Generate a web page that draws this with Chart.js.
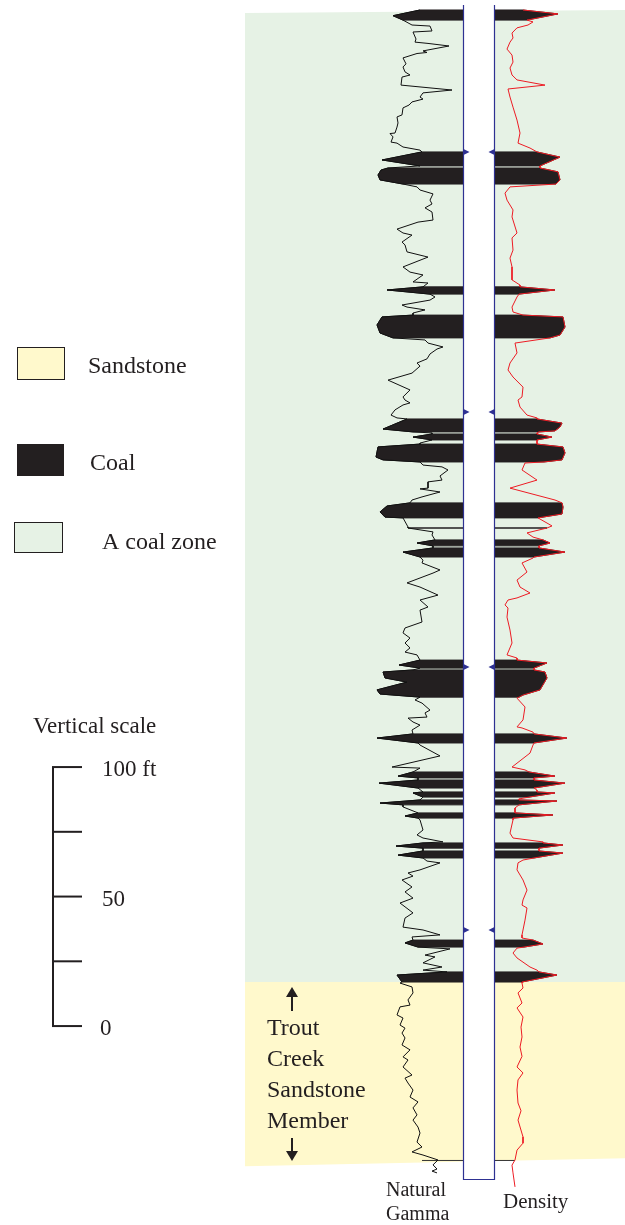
<!DOCTYPE html>
<html>
<head>
<meta charset="utf-8">
<script src="https://cdn.jsdelivr.net/npm/chart.js@4.4.1/dist/chart.umd.min.js"></script>
<style>
html, body { margin: 0; padding: 0; background: #fff; }
canvas { display: block; }
</style>
</head>
<body>
<canvas id="log" width="625" height="1225"></canvas>
<script>
// depth in ft below top of log, gamma in API, density in g/cc
const gammaLog = [
  [0,57],[2.2,30],[3.9,40],[5.8,49],[6.2,67],[8.1,69],[8.5,50],[11.2,53],[12.4,52],[12.9,65],[13.9,86],[15.8,60],[16.4,64],[16.8,54],[18.5,40],[20.8,43],[22.0,40],[23.9,42],[25.1,47],[25.9,39],[29.0,38],[30.9,89],[32.0,60],[33.6,57],[34.4,60],[35.5,49],[36.7,46],[37.8,40],[40.5,39],[41.3,34],[43.6,35],[45.2,34],[47.5,32],[47.7,27],[49.0,30],[51.0,28],[51.4,34],[52.9,40],[54.1,57],
  [54.8,59],[57.9,19],[60.2,57],
  [61.0,25],[61.8,18],[63.7,15],[65.6,17],[67.2,40],
  [68.3,54],[69.5,57],[71.0,70],[73.4,67],[74.9,69],[76.4,62],[78.0,69],[81.1,70],[81.9,55],[84.6,34],[86.1,40],[86.9,49],[89.6,39],[90.7,42],[93.4,44],[95.4,65],[99.2,40],[101.2,47],[102.3,60],[105.0,50],[105.4,65],
  [106.9,60],[108.1,24],[109.7,67],
  [110.8,72],[112.0,67],[113.9,39],[114.7,44],[115.8,62],[117.0,50],
  [117.8,50],[118.5,19],[121.6,14],[124.7,17],[126.6,30],
  [127.4,62],[128.6,65],[130.1,80],[130.9,74],[132.8,67],[134.7,64],[136.3,54],[137.5,57],[140.2,49],[142.9,25],[146.7,47],[149.4,40],[150.6,42],[151.7,47],[152.5,40],[154.4,32],[156.4,28],[157.5,34],
  [157.9,44],[161.8,20],[162.9,50],
  [163.3,69],
  [163.7,69],[164.9,50],[166.0,69],
  [167.2,57],
  [167.6,57],[168.7,15],[172.6,13],[173.7,20],[174.5,57],
  [175.7,60],[176.4,79],[177.6,85],[179.9,77],[181.5,79],[182.2,65],[184.6,65],[184.9,57],[186.1,77],[188.0,59],[189.2,49],
  [190.3,47],[191.5,24],[193.8,17],[195.8,22],[196.1,40],
  [199.6,45],[200.0,45],[201.5,70],[202.7,69],
  [204.6,72],[205.8,54],[206.9,70],
  [207.7,70],[209.3,40],[211.2,57],
  [212.4,60],[213.5,59],[216.2,77],[217.4,70],[221.2,44],[222.8,57],[225.9,75],[227.8,57],[230.5,65],[231.7,57],[236.3,59],[238.6,42],[240.5,40],[242.5,47],[244.4,42],[246.3,47],[247.9,42],[249.0,54],
  [251.0,57],[252.9,36],[254.1,57],
  [254.8,50],[255.6,20],[257.9,22],[259.5,44],[262.5,14],[264.1,17],[265.3,57],
  [266.4,52],[267.6,59],[270.3,67],[271.4,62],[273.0,64],[273.4,45],[274.9,50],[276.1,57],[278.0,49],
  [279.5,50],[281.1,14],[283.0,55],
  [283.8,57],[288.0,77],[292.3,29],[292.7,57],
  [294.2,50],[295.8,35],[296.5,55],
  [297.3,55],[298.5,16],[300.4,55],
  [301.9,60],[302.3,50],[303.9,60],
  [305.0,57],[306.2,17],[306.9,40],
  [307.7,40],
  [310.0,55],[311.2,42],[312.0,55],
  [312.7,57],[316.6,60],[318.5,54],[319.7,60],[321.2,80],
  [321.6,60],[322.8,33],[323.6,60],
  [324.7,60],[326.3,35],[327.4,60],
  [328.6,64],[329.3,77],[332.0,57],[333.2,45],[334.4,50],[335.9,39],[338.6,49],[340.5,42],[342.9,50],[344.8,37],[348.6,50],[350.6,42],[354.1,40],[355.2,60],[357.1,77],[357.9,49],
  [359.1,50],[360.2,42],[361.8,55],
  [362.5,87],[364.9,62],[365.6,72],[367.9,60],[369.5,79],[370.7,60],
  [371.4,84],[372.6,34],[375.3,39],
  [375.7,37],[377.2,49],[379.5,50],[382.2,45],[384.2,47],[384.9,37],[388.0,34],[389.2,40],[391.9,37],[393.1,42],[395.0,39],[396.9,42],[399.6,39],[401.5,47],[404.2,40],[405.4,45],[408.1,40],[411.2,49],[412.4,42],[414.3,45],[417.0,50],[419.7,47],[421.6,55],[423.9,50],[426.6,54],[428.6,50],[431.3,55],[433.6,57],[437.1,54],[439.0,59],[440.9,49],[442.1,60],[444.0,75],[445.9,70],[447.5,74],[448.3,69],[449.0,74]
];

const densityLog = [
  [0,2.22],[1.5,1.52],[3.9,2.14],
  [4.6,2.02],[5.8,2.12],[6.9,2.34],[8.9,2.44],[10.8,2.42],[12.4,2.48],[15.1,2.54],[17.4,2.44],[20.1,2.42],[22.4,2.48],[25.1,2.44],[27.0,2.34],[29.0,1.78],[30.5,2.52],[33.6,2.48],[37.5,2.42],[42.5,2.34],[47.5,2.28],[51.4,2.32],[53.3,2.08],
  [54.8,1.94],[56.8,1.48],[60.2,1.88],
  [61.0,1.88],[62.5,1.52],[65.6,1.48],[67.2,1.56],
  [68.3,2.48],[70.7,2.58],[73.4,2.54],[77.2,2.42],[79.9,2.44],[86.1,2.34],[88.0,2.44],[92.7,2.42],[95.8,2.48],[99.2,2.44],[104.2,2.44],[106.2,2.28],
  [106.9,2.28],[108.1,1.58],[109.7,2.3],
  [110.8,2.34],[114.7,2.44],[116.6,2.42],
  [117.8,2.22],[118.5,1.42],[122.4,1.38],[125.5,1.48],[126.6,1.68],
  [128.6,2.38],[132.4,2.34],[136.3,2.48],[139.0,2.52],[141.7,2.42],[145.6,2.22],[149.4,2.24],[150.6,2.32],[153.3,2.28],[156.4,2.14],[157.5,1.94],
  [157.9,1.94],[159.5,1.44],[161.0,1.48],[162.5,1.58],[162.9,1.9],
  [163.3,1.94],
  [163.7,1.94],[164.9,1.64],[166.0,1.94],
  [167.2,1.94],
  [167.6,1.94],[168.7,1.42],[171.0,1.38],[173.7,1.44],[174.5,1.8],
  [174.9,2.18],[177.6,2.24],[181.5,1.94],[184.6,2.48],[189.2,1.58],
  [190.3,1.44],[191.9,1.42],[194.6,1.44],[196.1,1.92],
  [199.2,1.64],[200.0,1.74],[201.9,2.14],[203.5,2.02],
  [204.6,1.82],[205.8,1.68],[206.9,1.9],
  [207.7,1.9],[209.3,1.38],[211.2,2.0],
  [211.6,2.02],[213.5,2.24],[217.0,2.14],[220.1,2.34],[222.8,2.28],[225.1,2.08],[227.0,2.34],[227.8,2.52],[229.7,2.58],[230.9,2.52],[234.4,2.54],[239.4,2.48],[244.4,2.44],[249.0,2.54],[250.2,2.34],
  [251.0,2.34],[252.1,1.74],[254.1,2.0],
  [254.8,2.0],[255.6,1.78],[257.9,1.74],[262.5,1.88],[264.5,2.22],[265.3,2.3],
  [265.7,2.34],[269.1,2.18],[274.1,2.22],[276.8,2.34],[277.2,2.24],[278.8,2.02],
  [279.5,2.0],[281.1,1.34],[283.0,2.0],
  [283.8,2.02],[286.9,2.08],[292.3,2.44],[293.4,2.18],
  [294.2,2.1],[295.8,1.58],[296.5,2.0],
  [297.3,2.0],[298.5,1.38],[300.4,2.0],
  [301.2,1.94],
  [301.9,1.94],[302.3,1.58],[303.9,2.1],
  [304.6,2.3],
  [305.0,2.3],[305.4,1.54],[306.9,2.3],
  [308.1,2.38],
  [310.0,2.38],[310.8,1.62],[312.0,2.42],
  [312.7,2.42],[317.8,2.48],[319.7,2.42],[321.2,1.82],
  [321.6,1.82],[322.4,1.42],[323.6,1.9],
  [324.7,1.9],[325.5,1.42],[327.4,2.0],
  [328.2,2.22],[329.3,2.32],[332.0,2.34],[335.9,2.22],[339.8,2.14],[343.6,2.22],[345.6,2.24],[346.7,2.14],[351.4,2.18],[357.1,2.24],[358.3,2.24],
  [359.1,2.02],[360.6,1.82],[361.8,2.2],
  [362.2,2.34],[364.1,2.42],[366.0,2.34],[369.5,2.08],[370.7,1.94],
  [371.4,1.9],[372.6,1.54],[375.3,2.24],
  [375.7,2.24],[377.6,2.22],[379.5,2.32],[383.4,2.24],[385.3,2.34],[388.8,2.22],[392.7,2.26],[396.5,2.24],[400.4,2.28],[404.0,2.24],[408.1,2.34],[410.4,2.22],[413.1,2.32],[417.0,2.34],[422.0,2.32],[425.0,2.26],[428.6,2.32],[435.1,2.22],[437.5,2.22],[440.2,2.34],[444.0,2.38],[446.0,2.44],[449.0,2.42],[454.4,2.38]
];

// coal beds (top / base, ft)
const coalTop  = [0, 54.8, 61.0, 106.9, 117.8, 157.9, 163.7, 167.6, 190.3, 200.0, 204.6, 207.7, 251.0, 254.8, 279.5, 294.2, 297.3, 301.9, 305.0, 310.0, 321.6, 324.7, 359.1, 371.4];
const coalBase = [3.9, 60.2, 67.2, 109.7, 126.6, 162.9, 166.0, 174.5, 196.1, 200.0, 206.9, 211.2, 254.1, 265.3, 283.0, 296.5, 300.4, 303.9, 306.9, 312.0, 323.6, 327.4, 361.8, 375.3];

// lithology zones
const zoneNames = ['A coal zone', 'Sandstone'];
const zoneTop   = [0, 375.3];
const zoneBase  = [375.3, 444.5];

// borehole and caliper marks
const boreTop = -1.9, boreBase = 451.4;
const notchDepths = [54.8, 155.2, 253.7, 355.2];
const logBase = 444.0;

// vertical scale bar
const scaleTicks = [0, 25, 50, 75, 100];
const scaleLabels = ['0', '', '50', '', '100 ft'];
const scaleZero = 392.3;

const COAL = '#231f20', GREEN = '#e6f2e5', YELLOW = '#fff9cc', BLUE = '#2e3192', RED = '#ed1c24';
const GAMMA_EDGE = 100, DENSITY_EDGE = 2.8;

function bedPoints(log, edge, top, base) {
  const pts = [{x: edge, y: top}];
  log.forEach(([d, v]) => { if (d >= top && d <= base) pts.push({x: v, y: d}); });
  pts.push({x: edge, y: base});
  return pts;
}

const datasets = [
  { data: gammaLog.map(([d, v]) => ({x: v, y: d})), xAxisID: 'xg', borderColor: '#111', borderWidth: 1 },
  { data: densityLog.map(([d, v]) => ({x: v, y: d})), xAxisID: 'xd', borderColor: RED, borderWidth: 1 }
];
coalTop.forEach((t, i) => {
  datasets.push({ data: bedPoints(gammaLog, GAMMA_EDGE, t, coalBase[i]), xAxisID: 'xg',
    borderColor: COAL, backgroundColor: COAL, borderWidth: 1, fill: 'shape' });
  datasets.push({ data: bedPoints(densityLog, DENSITY_EDGE, t, coalBase[i]), xAxisID: 'xd',
    borderColor: COAL, backgroundColor: COAL, borderWidth: 1, fill: 'shape' });
});
datasets.forEach(ds => { ds.showLine = true; ds.pointRadius = 0; ds.tension = 0; ds.yAxisID = 'y'; });

const layers = {
  id: 'layers',
  beforeDatasetsDraw(chart) {
    const {ctx, scales: {y, xg, xd}} = chart;
    ctx.save();
    // A coal zone (top edge tilts slightly)
    let t = y.getPixelForValue(zoneTop[0]), b = y.getPixelForValue(zoneBase[0]);
    ctx.fillStyle = GREEN;
    ctx.beginPath();
    ctx.moveTo(245, t + 3); ctx.lineTo(625, t); ctx.lineTo(625, b); ctx.lineTo(245, b);
    ctx.closePath(); ctx.fill();
    // sandstone (bottom edge tilts)
    t = y.getPixelForValue(zoneTop[1]); b = y.getPixelForValue(zoneBase[1]);
    ctx.fillStyle = YELLOW;
    ctx.beginPath();
    ctx.moveTo(245, t); ctx.lineTo(625, t); ctx.lineTo(625, b - 3); ctx.lineTo(245, b + 5);
    ctx.closePath(); ctx.fill();
    // base of log
    const yb = y.getPixelForValue(logBase);
    ctx.strokeStyle = '#333'; ctx.lineWidth = 1;
    ctx.beginPath(); ctx.moveTo(xg.getPixelForValue(59), yb + 0.5); ctx.lineTo(xd.getPixelForValue(2.38), yb + 0.5); ctx.stroke();
    ctx.restore();
  },
  afterDatasetsDraw(chart) {
    const {ctx, scales: {y, xg, xd}} = chart;
    const l = Math.round(xg.getPixelForValue(GAMMA_EDGE)) + 0.5;
    const r = Math.round(xd.getPixelForValue(DENSITY_EDGE)) + 0.5;
    const t = y.getPixelForValue(boreTop), b = Math.round(y.getPixelForValue(boreBase)) + 0.5;
    ctx.save();
    ctx.fillStyle = '#fff';
    ctx.fillRect(l, t, r - l, b - t);
    ctx.strokeStyle = BLUE; ctx.lineWidth = 1.2;
    ctx.beginPath();
    ctx.moveTo(l, t); ctx.lineTo(l, b); ctx.lineTo(r, b); ctx.lineTo(r, t);
    ctx.stroke();
    ctx.fillStyle = BLUE;
    notchDepths.forEach(d => {
      const yn = y.getPixelForValue(d);
      ctx.beginPath(); ctx.moveTo(l, yn - 3); ctx.lineTo(l + 6, yn); ctx.lineTo(l, yn + 3); ctx.closePath(); ctx.fill();
      ctx.beginPath(); ctx.moveTo(r, yn - 3); ctx.lineTo(r - 6, yn); ctx.lineTo(r, yn + 3); ctx.closePath(); ctx.fill();
    });
    ctx.restore();
  },
  afterDraw(chart) {
    const {ctx, scales: {y}} = chart;
    ctx.save();
    ctx.fillStyle = COAL; ctx.strokeStyle = COAL;
    ctx.textBaseline = 'alphabetic';
    // legend
    ctx.lineWidth = 1;
    ctx.fillStyle = YELLOW; ctx.fillRect(17.5, 347.5, 47, 32); ctx.strokeRect(17.5, 347.5, 47, 32);
    ctx.fillStyle = COAL; ctx.fillRect(17, 444, 47, 32);
    ctx.fillStyle = GREEN; ctx.fillRect(14.5, 522.5, 48, 30); ctx.strokeRect(14.5, 522.5, 48, 30);
    ctx.fillStyle = COAL;
    ctx.font = "24px 'Liberation Serif'";
    ctx.fillText(zoneNames[1], 88, 373);
    ctx.fillText('Coal', 90, 470);
    ctx.fillText(zoneNames[0], 102, 549);
    // vertical scale
    ctx.font = "23px 'Liberation Serif'";
    ctx.fillText('Vertical scale', 33, 733);
    const yTop = y.getPixelForValue(scaleZero - 100), yBot = y.getPixelForValue(scaleZero);
    ctx.lineWidth = 2;
    ctx.beginPath(); ctx.moveTo(53, yTop); ctx.lineTo(53, yBot); ctx.stroke();
    scaleTicks.forEach((v, i) => {
      const yy = y.getPixelForValue(scaleZero - v);
      ctx.beginPath(); ctx.moveTo(52, yy); ctx.lineTo(82, yy); ctx.stroke();
      if (scaleLabels[i]) ctx.fillText(scaleLabels[i], v === 0 ? 100 : 102, yy + 9);
    });
    // member label
    ctx.font = "24px 'Liberation Serif'";
    ['Trout', 'Creek', 'Sandstone', 'Member'].forEach((w, i) => ctx.fillText(w, 267, 1035 + i * 31));
    ctx.lineWidth = 2;
    ctx.beginPath(); ctx.moveTo(292, 1011); ctx.lineTo(292, 994); ctx.stroke();
    ctx.beginPath(); ctx.moveTo(286, 997); ctx.lineTo(292, 987); ctx.lineTo(298, 997); ctx.closePath(); ctx.fill();
    ctx.beginPath(); ctx.moveTo(292, 1138); ctx.lineTo(292, 1154); ctx.stroke();
    ctx.beginPath(); ctx.moveTo(286, 1151); ctx.lineTo(292, 1161); ctx.lineTo(298, 1151); ctx.closePath(); ctx.fill();
    // track labels
    ctx.font = "20px 'Liberation Serif'";
    ctx.fillText('Natural', 386, 1196);
    ctx.fillText('Gamma', 386, 1220);
    ctx.font = "21px 'Liberation Serif'";
    ctx.fillText('Density', 503, 1208);
    ctx.restore();
  }
};

new Chart(document.getElementById('log'), {
  type: 'scatter',
  data: { datasets },
  options: {
    responsive: false,
    animation: false,
    events: [],
    layout: { padding: 0 },
    plugins: { legend: { display: false }, tooltip: { enabled: false } },
    scales: {
      xg: { type: 'linear', axis: 'x', min: -363, max: 262, display: false },
      xd: { type: 'linear', axis: 'x', min: 0.18, max: 12.68, reverse: true, display: false },
      y:  { type: 'linear', min: -3.86, max: 469.11, reverse: true, display: false }
    }
  },
  plugins: [layers]
});
</script>
</body>
</html>
